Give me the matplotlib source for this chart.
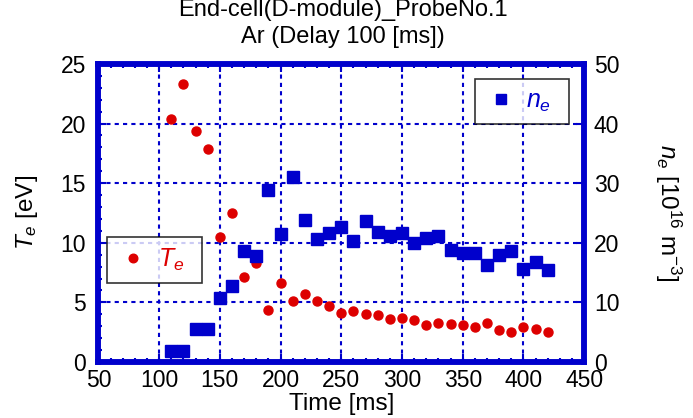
import matplotlib.pyplot as plt
from matplotlib.ticker import MultipleLocator

plt.rcParams['font.family'] = ['Liberation Sans', 'DejaVu Sans']
plt.rcParams['mathtext.fontset'] = 'custom'
plt.rcParams['mathtext.rm'] = 'Liberation Sans'
plt.rcParams['mathtext.it'] = 'Liberation Sans:italic'

# electron temperature [eV]
time_te = [110, 120, 130, 140, 150, 160, 170, 180, 190, 200, 210, 220, 230, 240,
           250, 260, 270, 280, 290, 300, 310, 320, 330, 340, 350, 360, 370, 380,
           390, 400, 410, 420]
te = [20.4, 23.3, 19.4, 17.9, 10.5, 12.5, 7.1, 8.3, 4.4, 6.6, 5.1, 5.7, 5.1, 4.7,
      4.1, 4.3, 4.0, 3.9, 3.6, 3.7, 3.5, 3.1, 3.3, 3.2, 3.1, 2.9, 3.3, 2.7,
      2.5, 2.9, 2.8, 2.5]

# electron density [1e16 m^-3]
time_ne = time_te
ne = [1.8, 1.9, 5.5, 5.6, 10.8, 12.8, 18.6, 17.8, 28.9, 21.5, 31.1, 23.9, 20.6, 21.6,
      22.7, 20.3, 23.6, 21.8, 21.1, 21.6, 20.0, 20.8, 21.1, 18.8, 18.3, 18.3, 16.3, 18.0,
      18.7, 15.6, 16.7, 15.5]

blue = '#0000cc'
red = '#dd0000'

fig = plt.figure(figsize=(6.93, 4.18), dpi=100)
ax = fig.add_axes([0.142, 0.134, 0.701, 0.713])
ax2 = ax.twinx()

ax.plot(time_te, te, 'o', color=red, markersize=6.5, label=r'$T_e$', zorder=3)
ax2.plot(time_ne, ne, 's', color=blue, markersize=8.2, label=r'$n_e$', zorder=3)

ax.set_xlim(50, 450)
ax.set_ylim(0, 25)
ax2.set_ylim(0, 50)

ax.xaxis.set_major_locator(MultipleLocator(50))
ax.xaxis.set_minor_locator(MultipleLocator(10))
ax.yaxis.set_major_locator(MultipleLocator(5))
ax.yaxis.set_minor_locator(MultipleLocator(1))
ax2.yaxis.set_major_locator(MultipleLocator(10))

ax.grid(True, which='major', color=blue, linestyle=(0, (2, 2)), linewidth=1.5)

for a in (ax, ax2):
    for s in a.spines.values():
        s.set_color(blue)
        s.set_linewidth(4)
ax.tick_params(which='both', direction='in', color=blue, top=True, labelsize=16.5,
               labelcolor='black')
ax.tick_params(axis='x', pad=5)
ax.tick_params(axis='y', pad=9)
ax.tick_params(which='major', length=6, width=1.5)
ax.tick_params(which='minor', length=3, width=1.5)
ax2.tick_params(which='both', direction='in', color=blue, labelsize=16.5, length=6,
                width=1.5, pad=7)

ax.set_xlabel('Time [ms]', fontsize=17.5, labelpad=1)
ax.set_ylabel(r'$T_e$ [eV]', fontsize=17.5, labelpad=15)
ax2.set_ylabel(r'$n_e$ [10$^{16}$ m$^{-3}$]', fontsize=17.5, rotation=-90, labelpad=46)

fig.text(0.495, 1 - 16 / 418, 'End-cell(D-module)_ProbeNo.1', ha='center',
         va='baseline', fontsize=17)
fig.text(0.495, 1 - 43 / 418, 'Ar (Delay 100 [ms])', ha='center', va='baseline',
         fontsize=17)

leg_kw = dict(fontsize=18, frameon=True, fancybox=False, edgecolor='black',
              handletextpad=0.36, borderpad=0.4, handlelength=1.28,
              borderaxespad=0, mode='expand', markerscale=0.95)
leg1 = ax.legend(loc='upper left', bbox_to_anchor=(0.0175, 0.0, 0.196, 0.42),
                 labelcolor=red, **leg_kw)
leg1.get_frame().set_linewidth(1.2)
leg2 = ax2.legend(loc='upper left', bbox_to_anchor=(0.775, 0.0, 0.194, 0.95),
                  labelcolor=blue, **leg_kw)
leg2.get_frame().set_linewidth(1.2)

fig.savefig('out.png', dpi=100)
